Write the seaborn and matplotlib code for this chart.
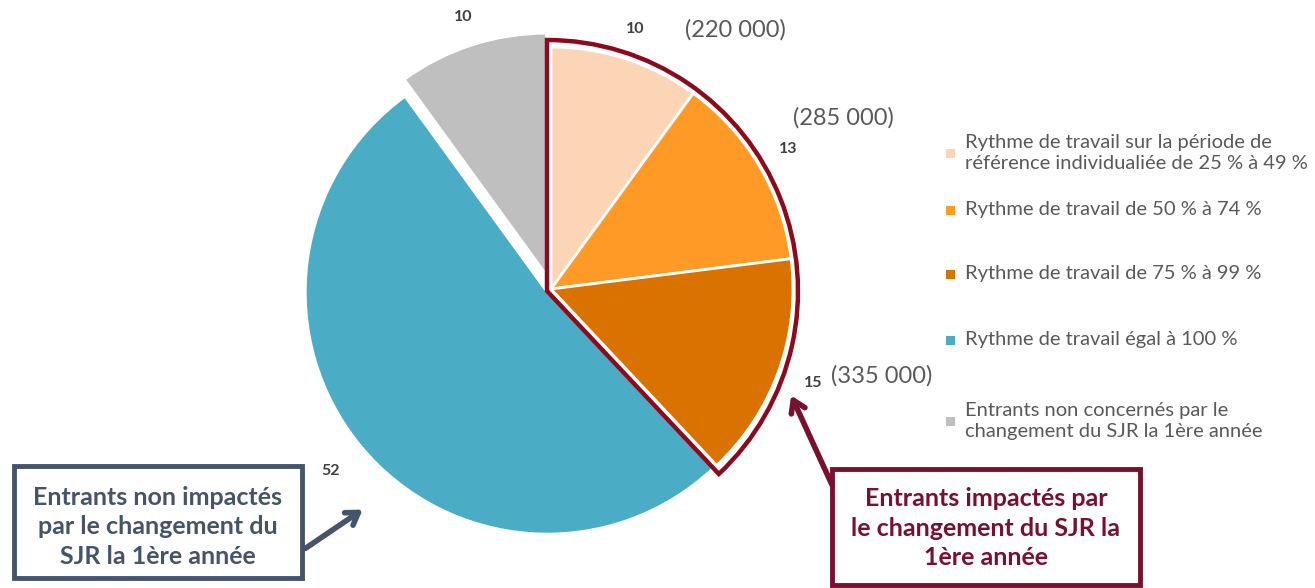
import matplotlib
matplotlib.use("Agg")
import matplotlib.pyplot as plt
import numpy as np
import seaborn as sns
from matplotlib.patches import Wedge, Rectangle

# Data
categories = [
    "Rythme de travail sur la période de\nréférence individualiée de 25 % à 49 %",
    "Rythme de travail de 50 % à 74 %",
    "Rythme de travail de 75 % à 99 %",
    "Rythme de travail égal à 100 %",
    "Entrants non concernés par le\nchangement du SJR la 1ère année",
]
values = [10, 13, 15, 52, 10]
counts = ["(220 000)", "(285 000)", "(335 000)"]
colors = ["#FBD5B5", "#FF9A27", "#D97200", "#4BACC6", "#BFBFBF"]
explode_frac = [0, 0, 0, 0.02, 0.06]
label_dist = [1.13, 1.14, 1.15, 1.16, 1.12]

W, H = 1315, 588


def Y(y):
    # image pixel row -> data y
    return H - y


sns.set_theme(style="white")
plt.rcParams['font.family'] = ['Lato', 'DejaVu Sans']

fig = plt.figure(figsize=(W / 100, H / 100), dpi=100)
ax = fig.add_axes([0, 0, 1, 1])

cx, cy, r = 551, Y(289), 242
# matplotlib's explode is in data units, so scale by radius
explode = [e * r for e in explode_frac]
wedges, _, autotexts = ax.pie(
    values, colors=colors, explode=explode, startangle=90, counterclock=False,
    center=(cx, cy), radius=r, autopct=lambda p: f"{p:.0f}", pctdistance=1.14,
    wedgeprops=dict(edgecolor="white", linewidth=2),
    textprops=dict(fontsize=11.5, fontweight="bold", color="#404040"),
)
# nudge each value label to its own distance along the slice mid-angle
for w, t, d in zip(wedges, autotexts, label_dist):
    mid = np.deg2rad((w.theta1 + w.theta2) / 2)
    wx, wy = w.center
    t.set_position((wx + d * r * np.cos(mid), wy + d * r * np.sin(mid)))

# outline around the impacted slices (first three)
impacted = sum(values[:3]) / sum(values) * 360
ax.add_patch(Wedge((cx - 4, cy - 2), r + 9, 90 - impacted, 90, fill=False,
                   edgecolor="#8B0A1E", linewidth=3.2, joinstyle="miter"))

# head counts next to the percentage labels
count_pos = [(735, 30), (843, 118), (882, 376)]
for txt, (x, y) in zip(counts, count_pos):
    ax.text(x, Y(y), txt, fontsize=17, color="#595959", ha="center", va="center")

# legend drawn by hand
leg_y = [153, 210, 274, 340, 421]
for lab, col, y in zip(categories, colors, leg_y):
    ax.add_patch(Rectangle((946, Y(y) - 4.5), 9, 9, facecolor=col, edgecolor="none"))
    ax.text(965, Y(y), lab, fontsize=14.5, color="#595959", ha="left", va="center",
            linespacing=1.3)

# annotation boxes
left_col = "#44546A"
right_col = "#7A1030"
ax.add_patch(Rectangle((14, Y(578)), 288, 112, fill=False, edgecolor=left_col, linewidth=3.5))
ax.text(158, Y(527), "Entrants non impactés\npar le changement du\nSJR la 1ère année",
        fontsize=18, fontweight="bold", color=left_col, ha="center", va="center",
        linespacing=1.35)
ax.annotate("", xy=(365, Y(508)), xytext=(303, Y(550)),
            arrowprops=dict(arrowstyle="->,head_length=0.7,head_width=0.45",
                            color=left_col, lw=4))

ax.add_patch(Rectangle((832, Y(585)), 308, 116, fill=False, edgecolor=right_col, linewidth=3.5))
ax.text(986, Y(528), "Entrants impactés par\nle changement du SJR la\n1ère année",
        fontsize=18, fontweight="bold", color=right_col, ha="center", va="center",
        linespacing=1.35)
ax.annotate("", xy=(790, Y(393)), xytext=(833, Y(487)),
            arrowprops=dict(arrowstyle="->,head_length=0.7,head_width=0.45",
                            color=right_col, lw=4))

ax.set_xlim(0, W)
ax.set_ylim(0, H)
ax.set_aspect("equal")
ax.axis("off")

fig.savefig("out.png", dpi=100)
